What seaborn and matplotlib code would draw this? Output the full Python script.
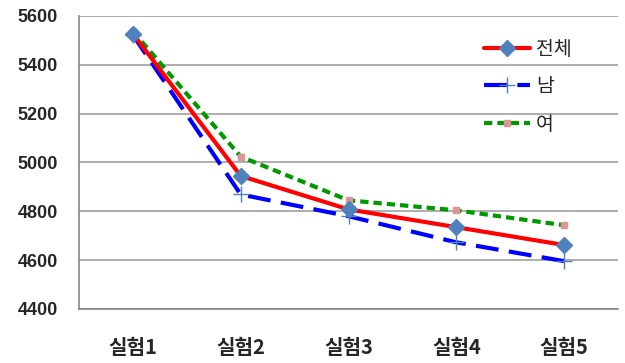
import matplotlib
matplotlib.use("Agg")
import matplotlib.pyplot as plt
import seaborn as sns
import pandas as pd
from matplotlib.lines import Line2D

categories = ["실험1", "실험2", "실험3", "실험4", "실험5"]
total = [5527, 4945, 4808, 4735, 4662]
male = [5522, 4869, 4780, 4673, 4596]
female = [5537, 5024, 4845, 4804, 4743]
series_names = ["전체", "남", "여"]
y_ticks = [4400, 4600, 4800, 5000, 5200, 5400, 5600]

sns.set_theme(style="white")
plt.rcParams["font.family"] = ["Noto Sans CJK KR", "DejaVu Sans"]

df = pd.DataFrame({
    "pos": list(range(len(categories))) * 3,
    "value": total + male + female,
    "series": [series_names[0]] * 5 + [series_names[1]] * 5 + [series_names[2]] * 5,
})

fig = plt.figure(figsize=(6.25, 3.63), dpi=100)
ax = fig.add_axes([0.1264, 0.1488, 0.8624, 0.8072])

styles = {
    "전체": dict(color="#FF0000", lw=3.0, ls="-", marker="D", ms=8.5,
               mfc="#4F81BD", mec="#4F81BD", zorder=5),
    "남": dict(color="#0000FF", lw=3.0, ls=(0, (5.5, 2.5)), marker="+", ms=11,
              mfc="#4F81BD", mec="#4F81BD", mew=1.0, zorder=4),
    "여": dict(color="#009900", lw=3.0, ls=(0, (2.0, 1.2)), marker="s", ms=4,
              mfc="#D99694", mec="#D99694", zorder=3),
}

for name in ["여", "남", "전체"]:
    sub = df[df["series"] == name]
    st = styles[name]
    sns.lineplot(data=sub, x="pos", y="value", ax=ax, color=st["color"],
                 linewidth=st["lw"], linestyle=st["ls"], marker=st["marker"],
                 markersize=st["ms"], markerfacecolor=st["mfc"],
                 markeredgecolor=st["mec"], markeredgewidth=st.get("mew", 1.0),
                 zorder=st["zorder"], legend=False)

ax.set_xlim(-0.5, len(categories) - 0.5)
ax.set_ylim(4400, 5600)
ax.set_yticks(y_ticks)
ax.set_yticklabels([str(v) for v in y_ticks], fontsize=13, fontweight="bold",
                   family=["Liberation Sans"])
ax.set_xticks(range(len(categories)))
ax.set_xticklabels(categories, fontsize=14.5, fontweight="bold")
ax.tick_params(axis="x", which="major", length=0, pad=20)
ax.set_xticks([i - 0.5 for i in range(len(categories) + 1)], minor=True)
ax.tick_params(axis="x", which="minor", length=6, width=1, color="#868686",
               direction="out")
ax.tick_params(axis="y", length=6, width=1, color="#868686", direction="out",
               pad=9)
ax.set_xlabel("")
ax.set_ylabel("")
ax.grid(axis="y", color="#A0A0A0", linewidth=1.2)
ax.set_axisbelow(True)
for side in ["top", "right"]:
    ax.spines[side].set_visible(False)
for side in ["left", "bottom"]:
    ax.spines[side].set_color("#868686")
    ax.spines[side].set_linewidth(1.2)

handles = []
for name in series_names:
    st = styles[name]
    handles.append(Line2D([0], [0], color=st["color"], lw=st["lw"], ls=st["ls"],
                          marker=st["marker"], ms=st["ms"], mfc=st["mfc"],
                          mec=st["mec"], mew=st.get("mew", 1.0)))
ax.legend(handles, series_names, loc="upper left", bbox_to_anchor=(0.718, 0.982),
          frameon=False, fontsize=14, handlelength=2.4, handletextpad=0.3,
          labelspacing=0.85)

fig.savefig("out.png", dpi=100)
